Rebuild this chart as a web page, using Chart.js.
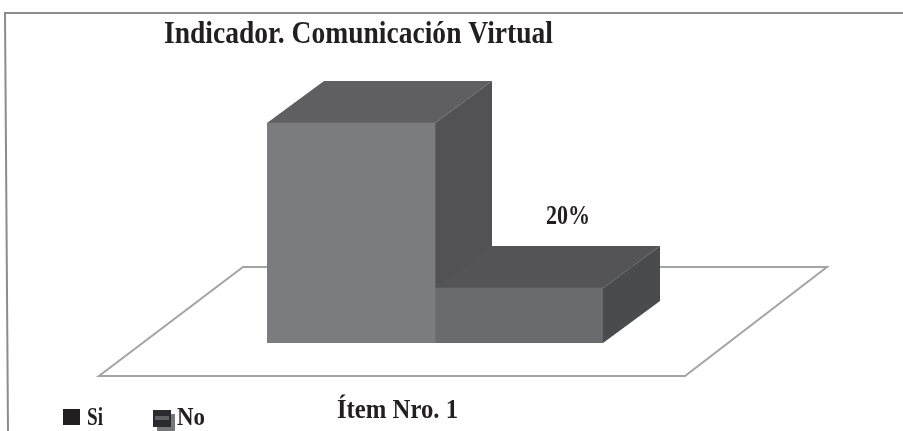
<!DOCTYPE html>
<html>
<head>
<meta charset="utf-8">
<script src="https://cdn.jsdelivr.net/npm/chart.js@4"></script>
<style>
  html, body { margin: 0; padding: 0; background: #fff; }
  canvas { display: block; }
</style>
</head>
<body>
<canvas id="chart" width="903" height="431"></canvas>
<script>
// chart values
const categories = ['Ítem Nro. 1'];
const seriesNames = ['Si', 'No'];
const siValues = [80];
const noValues = [20];
const valueLabels = ['', '20%'];   // only the 20% is printed in the original
const chartTitle = 'Indicador. Comunicación Virtual';

// greys for each bar: front, top, side
const faceColors = [
  { front: '#7b7c80', top: '#5f5f61', side: '#525254' },
  { front: '#6a6b6e', top: '#545456', side: '#4a4b4d' }
];
const depth = { x: 57, y: -42 };
const serif = '"Liberation Serif", serif';

function poly(ctx, pts, fill, stroke) {
  ctx.beginPath();
  pts.forEach((p, i) => i ? ctx.lineTo(p[0], p[1]) : ctx.moveTo(p[0], p[1]));
  ctx.closePath();
  if (fill) { ctx.fillStyle = fill; ctx.fill(); }
  if (stroke) { ctx.strokeStyle = stroke; ctx.lineWidth = 2; ctx.stroke(); }
}

// bold serif stretched or squeezed to the measured width of the scan
function boldText(ctx, text, x, y, size, width) {
  ctx.save();
  ctx.font = 'bold ' + size + 'px ' + serif;
  ctx.fillStyle = '#231f20';
  ctx.textAlign = 'left';
  ctx.textBaseline = 'alphabetic';
  ctx.translate(x, y);
  ctx.scale(width / ctx.measureText(text).width, 1);
  ctx.fillText(text, 0, 0);
  ctx.restore();
}

// draws the floor and the 3d faces behind the normal bars
const cube = {
  id: 'cube',
  beforeDatasetsDraw(chart) {
    const ctx = chart.ctx, area = chart.chartArea;
    ctx.save();
    // picture frame, slightly skewed like the scan
    ctx.strokeStyle = '#8c8c8c';
    ctx.lineWidth = 2;
    ctx.beginPath();
    ctx.moveTo(903, 13);
    ctx.lineTo(5, 13);
    ctx.lineTo(8, 431);
    ctx.stroke();
    // floor
    const fy = area.bottom + 33, by = area.bottom - 76;
    poly(ctx, [
      [area.left - 168, fy], [area.right + 82, fy],
      [area.right + 224, by], [area.left - 24, by]
    ], '#fff', '#a3a4a6');
    // top and side faces
    seriesNames.forEach((name, i) => {
      const bar = chart.getDatasetMeta(i).data[0];
      const l = bar.x - bar.width / 2, r = bar.x + bar.width / 2;
      const t = bar.y, b = bar.base;
      poly(ctx, [[l, t], [r, t], [r + depth.x, t + depth.y], [l + depth.x, t + depth.y]], faceColors[i].top);
      poly(ctx, [[r, t], [r + depth.x, t + depth.y], [r + depth.x, b + depth.y], [r, b]], faceColors[i].side);
    });
    ctx.restore();
  },
  afterDraw(chart) {
    const ctx = chart.ctx;
    ctx.save();
    boldText(ctx, chartTitle, 164, 43, 32, 389);
    boldText(ctx, categories[0], 337, 418, 27, 121);
    // value label sits above the bar's back edge
    valueLabels.forEach((txt, i) => {
      if (!txt) return;
      const bar = chart.getDatasetMeta(i).data[0];
      boldText(ctx, txt, bar.x + 27, bar.y - 64, 28, 44);
    });
    // legend
    ctx.fillStyle = '#231f20';
    ctx.fillRect(63, 409, 17, 16);
    boldText(ctx, seriesNames[0], 87, 425, 26, 16);
    ctx.fillStyle = '#77787b';
    ctx.fillRect(157, 414, 18, 17);
    ctx.fillStyle = '#2b2b2d';
    ctx.fillRect(153, 410, 18, 17);
    ctx.fillStyle = '#5f6062';
    ctx.fillRect(155, 416, 14, 4);
    boldText(ctx, seriesNames[1], 177, 425, 26, 28);
    ctx.restore();
  }
};

new Chart(document.getElementById('chart'), {
  type: 'bar',
  data: {
    labels: categories,
    datasets: [
      { label: seriesNames[0], data: siValues, backgroundColor: faceColors[0].front },
      { label: seriesNames[1], data: noValues, backgroundColor: faceColors[1].front }
    ]
  },
  options: {
    responsive: false,
    animation: false,
    categoryPercentage: 1,
    barPercentage: 1,
    layout: { padding: { left: 267, right: 300, top: 68, bottom: 88 } },
    scales: {
      x: { display: false },
      y: { display: false, min: 0, max: 100 }
    },
    plugins: {
      legend: { display: false },
      title: { display: false },
      tooltip: { enabled: false }
    }
  },
  plugins: [cube]
});
</script>
</body>
</html>
